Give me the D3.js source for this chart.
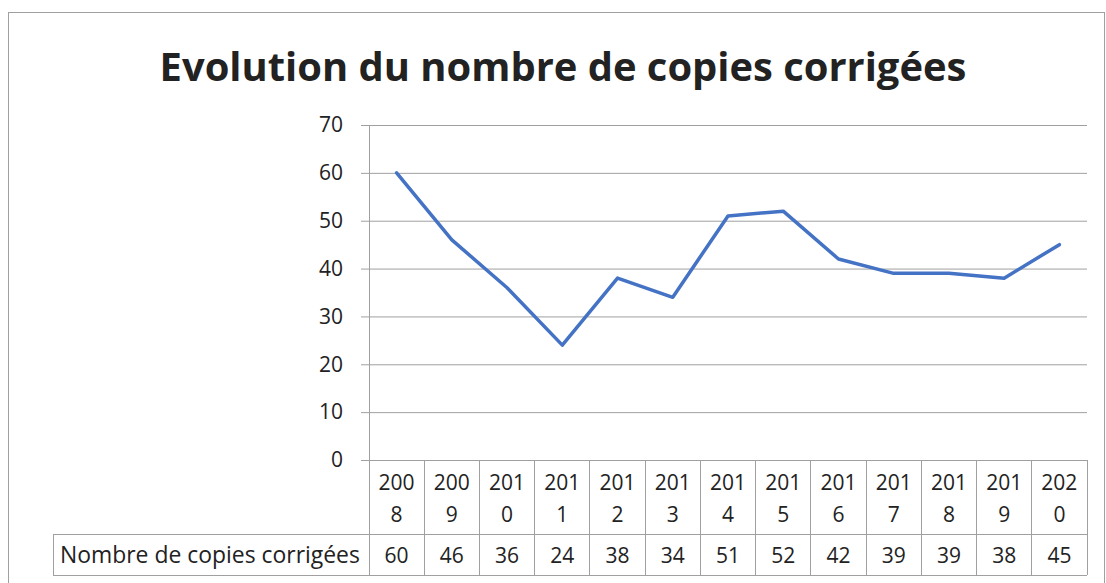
<!DOCTYPE html>
<html>
<head>
<meta charset="utf-8">
<script src="https://cdn.jsdelivr.net/npm/d3@7"></script>
<style>
  body { margin: 0; background: #fff; }
  svg { display: block; font-family: "Open Sans", sans-serif; }
</style>
</head>
<body>
<script>
const years = ["2008","2009","2010","2011","2012","2013","2014","2015","2016","2017","2018","2019","2020"];
const copies = [60, 46, 36, 24, 38, 34, 51, 52, 42, 39, 39, 38, 45];
const yTicks = [0, 10, 20, 30, 40, 50, 60, 70];
const seriesName = "Nombre de copies corrigées";
const title = "Evolution du nombre de copies corrigées";

const w = 1106;
const h = 583;
const plotL = 369, plotR = 1087, plotT = 125, plotB = 460;
const headRow = 534, valRow = 575, labelLeft = 53;
const grey = "#a0a0a0";

const svg = d3.select("body").append("svg")
  .attr("width", w)
  .attr("height", h);

svg.append("rect")
  .attr("width", w).attr("height", h).attr("fill", "#fff");

// chart border
svg.append("rect")
  .attr("x", 8.5).attr("y", 12.5)
  .attr("width", 1096).attr("height", 620)
  .attr("fill", "none").attr("stroke", grey);

// fit text width to what the reference shows
function fit(sel, target) {
  const len = sel.node().getComputedTextLength();
  const fs = parseFloat(sel.attr("font-size"));
  sel.attr("font-size", fs * target / len);
}

const t = svg.append("text")
  .attr("x", 563).attr("y", 81)
  .attr("text-anchor", "middle")
  .attr("font-weight", "bold")
  .attr("font-size", 36)
  .attr("fill", "#222")
  .text(title);
fit(t, 807);

const x = d3.scaleBand()
  .domain(years)
  .range([plotL, plotR])
  .padding(0);

const y = d3.scaleLinear()
  .domain([0, 70])
  .range([plotB, plotT]);

// y axis with gridlines
const yAxis = svg.append("g")
  .attr("transform", `translate(${plotL},0)`)
  .call(d3.axisLeft(y).tickValues(yTicks).tickSize(-(plotR - plotL)).tickPadding(26));
yAxis.select(".domain").remove();
yAxis.selectAll(".tick line").attr("x1", -8).attr("stroke", grey);
yAxis.selectAll(".tick text")
  .attr("font-size", 21)
  .attr("font-family", "Open Sans, sans-serif")
  .attr("fill", "#222");

// vertical axis line
svg.append("line")
  .attr("x1", plotL + 0.5).attr("x2", plotL + 0.5)
  .attr("y1", plotT).attr("y2", valRow)
  .attr("stroke", grey);

// line series
const line = d3.line()
  .x((d, i) => x(years[i]) + x.bandwidth() / 2)
  .y(d => y(d));

svg.append("path")
  .datum(copies)
  .attr("d", line)
  .attr("fill", "none")
  .attr("stroke", "#4472C4")
  .attr("stroke-width", 3.5)
  .attr("stroke-linejoin", "round")
  .attr("stroke-linecap", "round");

// data table
const table = svg.append("g").attr("stroke", grey).attr("shape-rendering", "crispEdges");
table.selectAll("line.col")
  .data(years)
  .enter().append("line")
  .attr("class", "col")
  .attr("x1", d => x(d) + x.bandwidth()).attr("x2", d => x(d) + x.bandwidth())
  .attr("y1", plotB).attr("y2", valRow);
table.append("line").attr("x1", labelLeft).attr("x2", plotR).attr("y1", headRow).attr("y2", headRow);
table.append("line").attr("x1", labelLeft).attr("x2", plotR).attr("y1", valRow).attr("y2", valRow);
table.append("line").attr("x1", labelLeft).attr("x2", labelLeft).attr("y1", headRow).attr("y2", valRow);

const head = svg.append("g").attr("font-size", 21).attr("fill", "#222").attr("text-anchor", "middle");
head.selectAll("text.y1")
  .data(years)
  .enter().append("text")
  .attr("x", d => x(d) + x.bandwidth() / 2)
  .attr("y", 490)
  .text(d => d.slice(0, 3));
head.selectAll("text.y2")
  .data(years)
  .enter().append("text")
  .attr("x", d => x(d) + x.bandwidth() / 2)
  .attr("y", 522)
  .text(d => d.slice(3));
head.selectAll("text.v")
  .data(copies)
  .enter().append("text")
  .attr("x", (d, i) => x(years[i]) + x.bandwidth() / 2)
  .attr("y", 563)
  .text(d => d);

const lab = svg.append("text")
  .attr("x", 60).attr("y", 563)
  .attr("font-size", 21)
  .attr("fill", "#222")
  .text(seriesName);
fit(lab, 300);
</script>
</body>
</html>
